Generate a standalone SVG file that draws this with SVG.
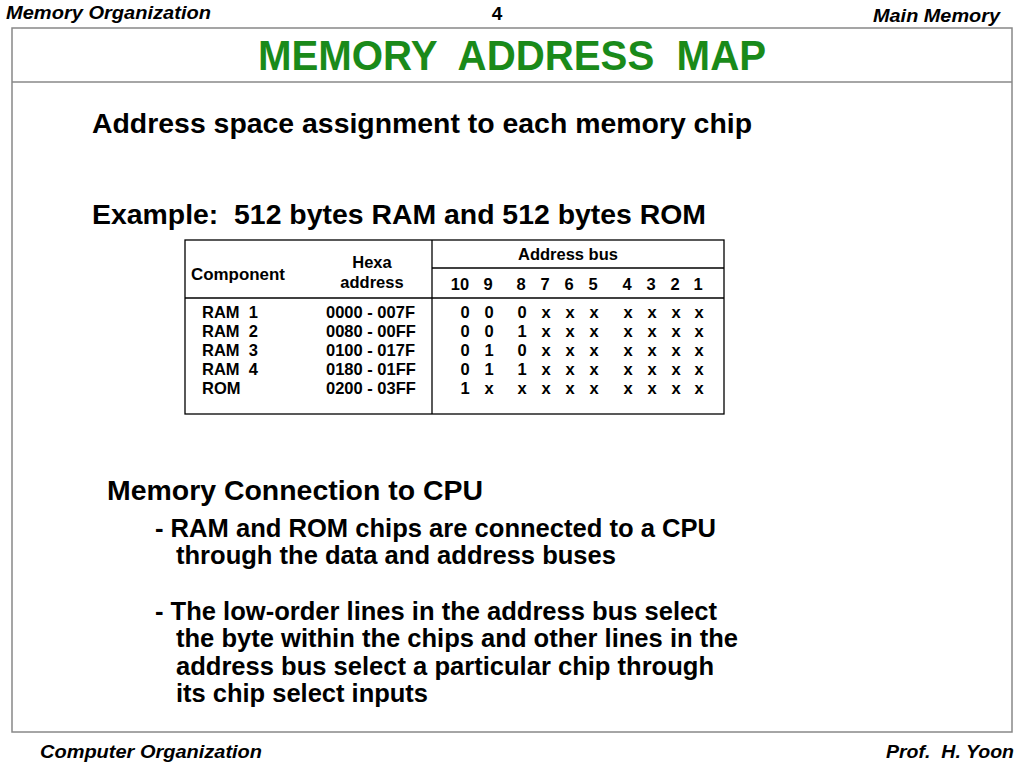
<svg xmlns="http://www.w3.org/2000/svg" width="1024" height="768" viewBox="0 0 1024 768">
<style>
text{font-family:"Liberation Sans",Arial,sans-serif;font-weight:bold;fill:#000}
.hdr{font-size:19px;font-style:italic}
.big{font-size:27px}
.m{font-size:25px}
.t{font-size:16.5px}
.c{text-anchor:middle}
.ln{stroke:#000;stroke-width:1.3;fill:none}
</style>
<rect width="1024" height="768" fill="#fff"/>
<g id="frame">
<rect x="12" y="28" width="1000" height="704" fill="none" stroke="#888" stroke-width="1.5"/>
<line x1="12" y1="82" x2="1012" y2="82" stroke="#888" stroke-width="1.5"/>
</g>
<text class="hdr" x="6" y="19" textLength="205" lengthAdjust="spacingAndGlyphs">Memory Organization</text>
<text class="hdr c" x="497" y="20" style="font-style:normal">4</text>
<text class="hdr" x="873" y="22" textLength="127" lengthAdjust="spacingAndGlyphs">Main Memory</text>
<text x="258" y="70" xml:space="preserve" style="font-size:42px;fill:#1a8a1a" textLength="508" lengthAdjust="spacingAndGlyphs">MEMORY  ADDRESS  MAP</text>
<text class="big" x="92" y="133" textLength="660" lengthAdjust="spacingAndGlyphs">Address space assignment to each memory chip</text>
<text class="big" x="92" y="224" xml:space="preserve" textLength="614" lengthAdjust="spacingAndGlyphs">Example:  512 bytes RAM and 512 bytes ROM</text>
<g id="table">
<rect class="ln" x="185" y="240" width="539" height="174"/>
<line class="ln" x1="185" y1="298" x2="724" y2="298"/>
<line class="ln" x1="432" y1="240" x2="432" y2="414"/>
<line class="ln" x1="432" y1="268" x2="724" y2="268"/>
<text class="t" x="191" y="280" textLength="94" lengthAdjust="spacingAndGlyphs">Component</text>
<text class="t c" x="372" y="268">Hexa</text>
<text class="t c" x="372" y="288">address</text>
<text class="t c" x="568" y="260">Address bus</text>
<g class="t" text-anchor="middle">
<text x="460" y="290">10</text><text x="488" y="290">9</text><text x="521" y="290">8</text><text x="545" y="290">7</text><text x="569" y="290">6</text><text x="593" y="290">5</text><text x="627" y="290">4</text><text x="651" y="290">3</text><text x="675" y="290">2</text><text x="698" y="290">1</text>
</g>
<g class="t">
<text x="202" y="318" xml:space="preserve">RAM  1</text>
<text x="202" y="337" xml:space="preserve">RAM  2</text>
<text x="202" y="356" xml:space="preserve">RAM  3</text>
<text x="202" y="375" xml:space="preserve">RAM  4</text>
<text x="202" y="394">ROM</text>
<text x="326" y="318">0000 - 007F</text>
<text x="326" y="337">0080 - 00FF</text>
<text x="326" y="356">0100 - 017F</text>
<text x="326" y="375">0180 - 01FF</text>
<text x="326" y="394">0200 - 03FF</text>
</g>
<g class="t" text-anchor="middle">
<text x="465" y="318">0</text><text x="489" y="318">0</text><text x="522" y="318">0</text><text x="546" y="318">x</text><text x="570" y="318">x</text><text x="594" y="318">x</text><text x="628" y="318">x</text><text x="652" y="318">x</text><text x="676" y="318">x</text><text x="699" y="318">x</text>
<text x="465" y="337">0</text><text x="489" y="337">0</text><text x="522" y="337">1</text><text x="546" y="337">x</text><text x="570" y="337">x</text><text x="594" y="337">x</text><text x="628" y="337">x</text><text x="652" y="337">x</text><text x="676" y="337">x</text><text x="699" y="337">x</text>
<text x="465" y="356">0</text><text x="489" y="356">1</text><text x="522" y="356">0</text><text x="546" y="356">x</text><text x="570" y="356">x</text><text x="594" y="356">x</text><text x="628" y="356">x</text><text x="652" y="356">x</text><text x="676" y="356">x</text><text x="699" y="356">x</text>
<text x="465" y="375">0</text><text x="489" y="375">1</text><text x="522" y="375">1</text><text x="546" y="375">x</text><text x="570" y="375">x</text><text x="594" y="375">x</text><text x="628" y="375">x</text><text x="652" y="375">x</text><text x="676" y="375">x</text><text x="699" y="375">x</text>
<text x="465" y="394">1</text><text x="489" y="394">x</text><text x="522" y="394">x</text><text x="546" y="394">x</text><text x="570" y="394">x</text><text x="594" y="394">x</text><text x="628" y="394">x</text><text x="652" y="394">x</text><text x="676" y="394">x</text><text x="699" y="394">x</text>
</g>
</g>
<text class="big" x="107" y="500" textLength="376" lengthAdjust="spacingAndGlyphs">Memory Connection to CPU</text>
<text class="m" x="155" y="537" textLength="561" lengthAdjust="spacingAndGlyphs">- RAM and ROM chips are connected to a CPU</text>
<text class="m" x="176" y="564" textLength="440" lengthAdjust="spacingAndGlyphs">through the data and address buses</text>
<text class="m" x="155" y="620" textLength="562" lengthAdjust="spacingAndGlyphs">- The low-order lines in the address bus select</text>
<text class="m" x="176" y="647" textLength="562" lengthAdjust="spacingAndGlyphs">the byte within the chips and other lines in the</text>
<text class="m" x="176" y="675" textLength="538" lengthAdjust="spacingAndGlyphs">address bus select a particular chip through</text>
<text class="m" x="176" y="702" textLength="252" lengthAdjust="spacingAndGlyphs">its chip select inputs</text>
<text class="hdr" x="40" y="758" textLength="222" lengthAdjust="spacingAndGlyphs">Computer Organization</text>
<text class="hdr" x="886" y="758" xml:space="preserve" textLength="128" lengthAdjust="spacingAndGlyphs">Prof.  H. Yoon</text>
</svg>
